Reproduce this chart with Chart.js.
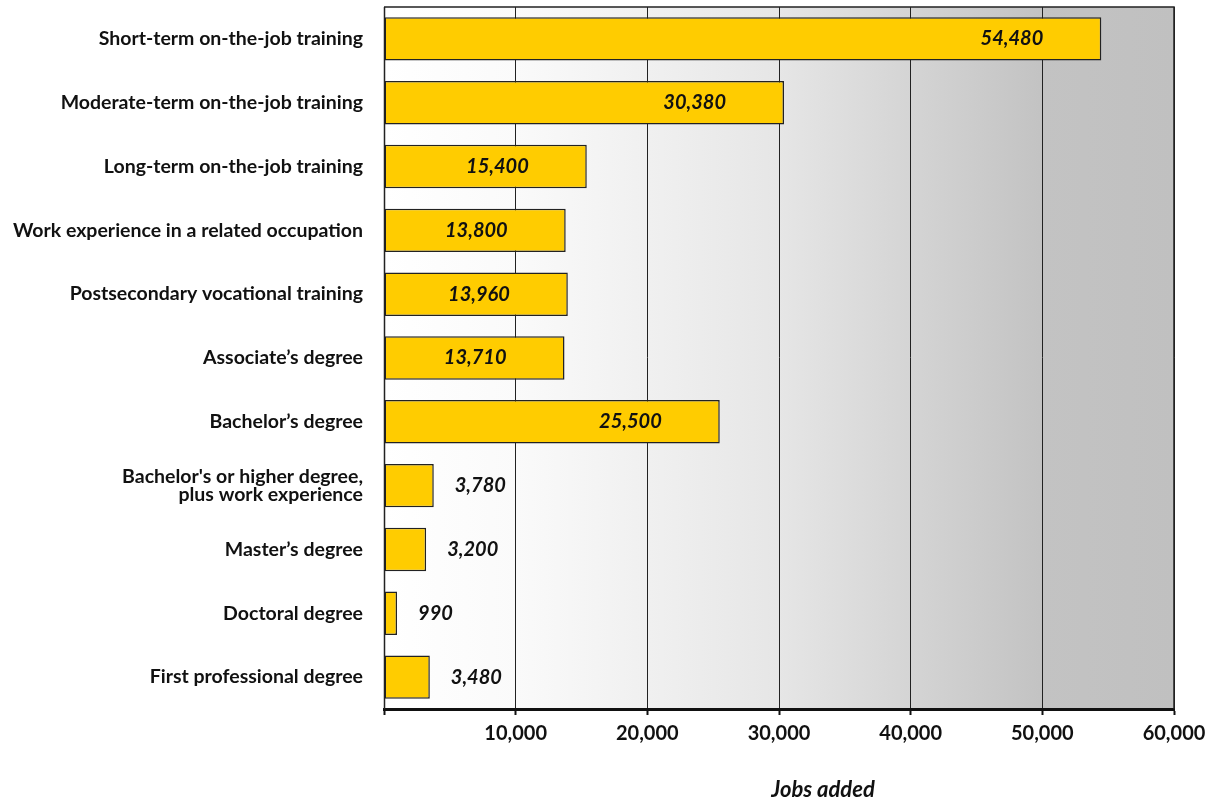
<!DOCTYPE html>
<html>
<head>
<meta charset="utf-8">
<script src="https://cdn.jsdelivr.net/npm/chart.js@4"></script>
<style>
  html, body { margin: 0; padding: 0; background: #fff; }
  #wrap { width: 1215px; height: 800px; position: relative; }
</style>
</head>
<body>
<div id="wrap"><canvas id="jobsChart"></canvas></div>
<script>
// Data
const categories = [
    'Short-term on-the-job training',
    'Moderate-term on-the-job training',
    'Long-term on-the-job training',
    'Work experience in a related occupation',
    'Postsecondary vocational training',
    'Associate\u2019s degree',
    'Bachelor\u2019s degree',
    ["Bachelor's or higher degree,", 'plus work experience'],
    'Master\u2019s degree',
    'Doctoral degree',
    'First professional degree'
];
const jobsAdded = [54480, 30380, 15400, 13800, 13960, 13710, 25500, 3780, 3200, 990, 3480];
const xTicks = [0, 10000, 20000, 30000, 40000, 50000, 60000];

const FONT = 'Lato, "DejaVu Sans", sans-serif';

// Gradient panel behind the bars, plus border on top/right
const panelPlugin = {
    id: 'panel',
    beforeDraw(chart) {
        const { ctx, chartArea: a } = chart;
        const g = ctx.createLinearGradient(a.left, 0, a.right, 0);
        g.addColorStop(0, '#ffffff');
        g.addColorStop(0.17, '#fafafa');
        g.addColorStop(0.5, '#e6e6e6');
        g.addColorStop(0.83, '#c3c3c3');
        g.addColorStop(1, '#c0c0c0');
        ctx.save();
        ctx.fillStyle = g;
        ctx.fillRect(a.left, a.top, a.right - a.left, a.bottom - a.top);
        ctx.restore();
    },
    afterDraw(chart) {
        const { ctx, chartArea: a } = chart;
        ctx.save();
        ctx.strokeStyle = '#222';
        ctx.lineWidth = 1.5;
        ctx.beginPath();
        ctx.moveTo(a.left, a.top);
        ctx.lineTo(a.right, a.top);
        ctx.lineTo(a.right, a.bottom);
        ctx.stroke();
        ctx.lineWidth = 1.5;
        ctx.beginPath();
        ctx.moveTo(a.left + 0.5, a.top);
        ctx.lineTo(a.left + 0.5, a.bottom);
        ctx.stroke();
        // axis title
        ctx.fillStyle = '#111';
        ctx.font = 'italic bold 22px ' + FONT;
        ctx.textAlign = 'center';
        ctx.textBaseline = 'middle';
        ctx.fillText('Jobs added', 823, 790);
        ctx.restore();
    }
};

// value labels: inside for long bars, outside for short ones
const valueLabels = {
    id: 'valueLabels',
    afterDatasetsDraw(chart) {
        const { ctx } = chart;
        const meta = chart.getDatasetMeta(0);
        ctx.save();
        ctx.fillStyle = '#111';
        ctx.font = 'italic bold 20px ' + FONT;
        ctx.textBaseline = 'middle';
        meta.data.forEach((bar, i) => {
            const v = jobsAdded[i];
            const txt = v.toLocaleString('en-US');
            if (v > 10000) {
                ctx.textAlign = 'right';
                ctx.fillText(txt, bar.x - 58, bar.y);
            } else {
                ctx.textAlign = 'left';
                ctx.fillText(txt, bar.x + 21, bar.y);
            }
        });
        ctx.restore();
    }
};

new Chart(document.getElementById('jobsChart'), {
    type: 'bar',
    data: {
        labels: categories,
        datasets: [{
            data: jobsAdded,
            backgroundColor: '#ffcc00',
            borderColor: '#222',
            borderWidth: 1.5,
            borderSkipped: false,
            barPercentage: 0.68,
            categoryPercentage: 1
        }]
    },
    options: {
        indexAxis: 'y',
        responsive: true,
        maintainAspectRatio: false,
        animation: false,
        layout: { padding: { top: 7, right: 41, left: 0, bottom: 0 } },
        plugins: {
            legend: { display: false },
            tooltip: { enabled: false }
        },
        scales: {
            x: {
                min: 0,
                max: 60000,
                afterBuildTicks(scale) {
                    scale.ticks = xTicks.map(v => ({ value: v }));
                },
                afterFit(scale) {
                    scale.height = 91;
                    scale.paddingLeft = 0;
                    scale.paddingRight = 0;
                },
                grid: {
                    color: '#222',
                    lineWidth: 1,
                    drawOnChartArea: true,
                    drawTicks: true,
                    tickLength: 6,
                    tickColor: '#111',
                    tickWidth: 2
                },
                border: { display: true, color: '#111', width: 3 },
                ticks: {
                    color: '#111',
                    font: { family: FONT, size: 20, weight: 'bold' },
                    padding: 7,
                    maxRotation: 0,
                    callback: v => v === 0 ? '' : v.toLocaleString('en-US')
                }
            },
            y: {
                afterFit(scale) {
                    scale.width = 384;
                    scale.paddingTop = 0;
                    scale.paddingBottom = 0;
                },
                grid: { display: false },
                border: { display: false },
                ticks: {
                    color: '#111',
                    font: { family: FONT, size: 19.5, weight: 'bold', lineHeight: 0.95 },
                    padding: 13,
                    autoSkip: false
                }
            }
        }
    },
    plugins: [panelPlugin, valueLabels]
});
</script>
</body>
</html>
